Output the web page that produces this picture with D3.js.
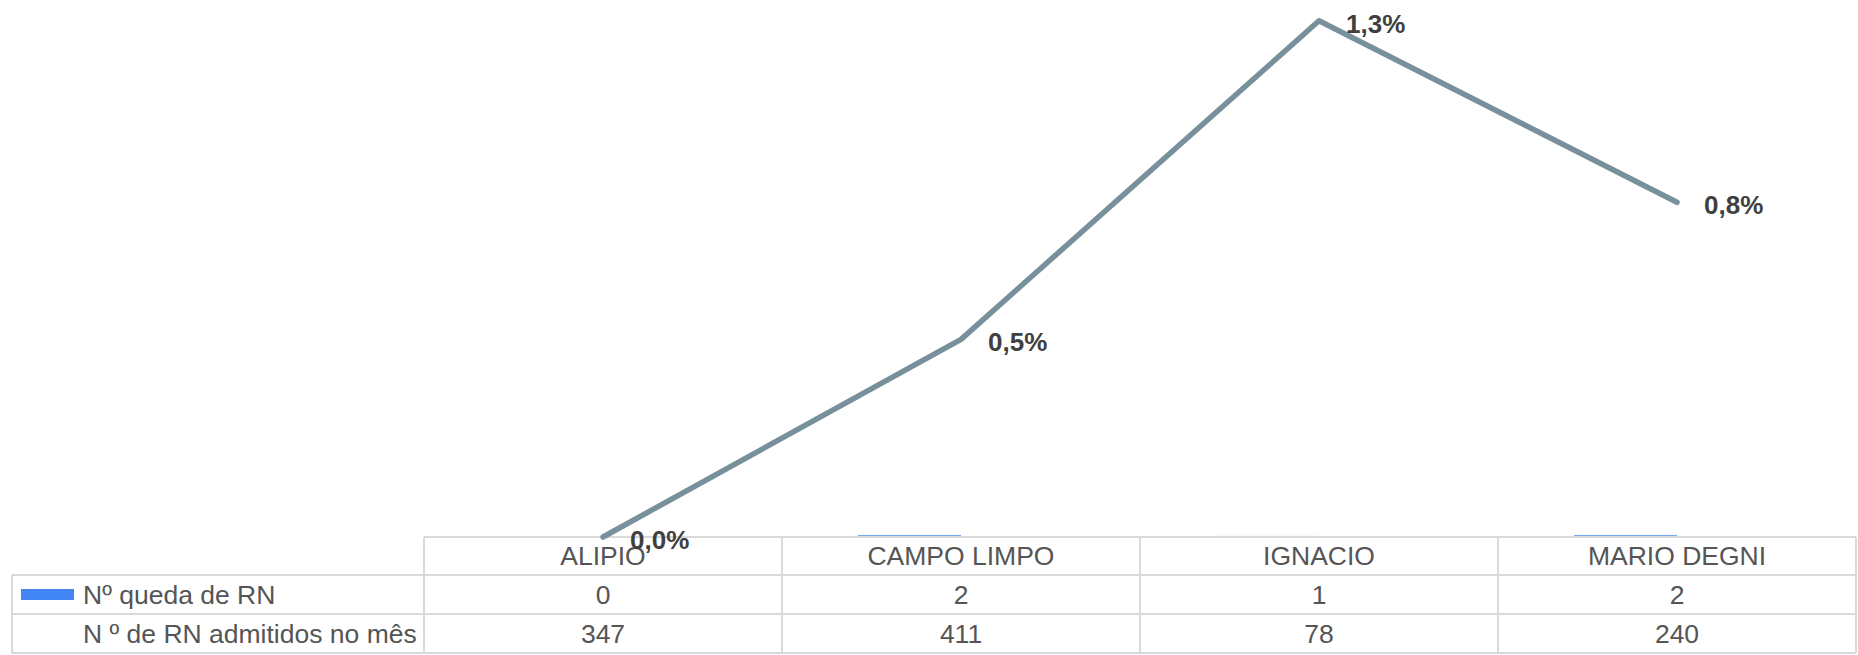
<!DOCTYPE html>
<html>
<head>
<meta charset="utf-8">
<script src="https://cdn.jsdelivr.net/npm/d3@7"></script>
<style>
	body { margin: 0; background: #fff; }
	svg { display: block; font-family: Arial, "Liberation Sans", sans-serif; }
</style>
</head>
<body>
<div id="chart"></div>
<script>
/*global d3*/

const units = ["ALIPIO", "CAMPO LIMPO", "IGNACIO", "MARIO DEGNI"];
const quedas = [0, 2, 1, 2];
const admitidos = [347, 411, 78, 240];
const taxa = [0.0, 0.49, 1.28, 0.83];   // % queda / admitidos
const rowLabels = ["Nº queda de RN", "N º de RN admitidos no mês"];

const BAR_COLOR = "#4285f4";
const LINE_COLOR = "#78909c";
const GRID = "#d9d9d9";
const TEXT = "#555555";

let width = 1858, height = 655;

let svg = d3.select("#chart")
	.append("svg")
	.attr("width", width)
	.attr("height", height);

// table geometry
let tableLeft = 12, tableRight = 1856, labelRight = 424;
let rowY = [537, 575, 614, 653];

// columns
let x = d3.scaleBand()
	.domain(units)
	.range([labelRight, tableRight])
	.padding(0);
let bw = x.bandwidth();

// series slots inside each column (second slot is the hidden admitidos bar)
let xs = d3.scaleBand()
	.domain(["queda", "admitidos"])
	.range([bw / 2 - 103, bw / 2 + 103]);

// y scales
let yBar = d3.scaleLinear().domain([0, 500]).range([rowY[0], 13]);
let yLine = d3.scaleLinear().domain([0, 1.3]).range([rowY[0], 12.7]);

// bars
svg.append("g")
	.selectAll("rect")
	.data(units.map((u, i) => ({u: u, v: quedas[i]})))
	.enter()
	.append("rect")
	.attr("x", d => x(d.u) + xs("queda"))
	.attr("width", xs.bandwidth())
	.attr("y", d => yBar(d.v))
	.attr("height", d => yBar(0) - yBar(d.v))
	.style("fill", BAR_COLOR)
	.style("opacity", 0.7);

// table grid
let grid = svg.append("g")
	.attr("stroke", GRID)
	.attr("stroke-width", 2)
	.attr("fill", "none");

grid.append("line")
	.attr("x1", labelRight).attr("x2", tableRight)
	.attr("y1", rowY[0]).attr("y2", rowY[0]);

rowY.slice(1).forEach(function (yy) {
	grid.append("line")
		.attr("x1", tableLeft).attr("x2", tableRight)
		.attr("y1", yy).attr("y2", yy);
});

grid.append("line")
	.attr("x1", tableLeft).attr("x2", tableLeft)
	.attr("y1", rowY[1]).attr("y2", rowY[3]);

units.forEach(function (u) {
	grid.append("line")
		.attr("x1", x(u)).attr("x2", x(u))
		.attr("y1", rowY[0]).attr("y2", rowY[3]);
});
grid.append("line")
	.attr("x1", tableRight).attr("x2", tableRight)
	.attr("y1", rowY[0]).attr("y2", rowY[3]);

// table text
let mid = function (r) { return (rowY[r] + rowY[r + 1]) / 2; };

let tableText = svg.append("g")
	.style("font-size", "26.5px")
	.style("fill", TEXT);

tableText.selectAll(".head")
	.data(units)
	.enter().append("text")
	.attr("x", d => x(d) + bw / 2)
	.attr("y", mid(0))
	.attr("dy", "0.35em")
	.attr("text-anchor", "middle")
	.text(d => d);

[quedas, admitidos].forEach(function (vals, r) {
	tableText.selectAll(".row" + r)
		.data(vals)
		.enter().append("text")
		.attr("x", (d, i) => x(units[i]) + bw / 2)
		.attr("y", mid(r + 1))
		.attr("dy", "0.35em")
		.attr("text-anchor", "middle")
		.text(d => d);
});

tableText.selectAll(".rowLabel")
	.data(rowLabels)
	.enter().append("text")
	.attr("x", 83)
	.attr("y", (d, i) => mid(i + 1))
	.attr("dy", "0.35em")
	.text(d => d);

// legend swatch for the bar series
svg.append("rect")
	.attr("x", 21)
	.attr("y", mid(1) - 5.5)
	.attr("width", 53)
	.attr("height", 11)
	.style("fill", BAR_COLOR);

// line
let line = d3.line()
	.x((d, i) => x(units[i]) + bw / 2)
	.y(d => yLine(d));

svg.append("path")
	.datum(taxa)
	.attr("d", line)
	.attr("fill", "none")
	.attr("stroke", LINE_COLOR)
	.attr("stroke-width", 5.5)
	.attr("stroke-linejoin", "round")
	.attr("stroke-linecap", "round");

// data labels
svg.append("g")
	.selectAll("text")
	.data(taxa)
	.enter().append("text")
	.attr("x", (d, i) => x(units[i]) + bw / 2 + 27)
	.attr("y", d => yLine(d) + 3)
	.attr("dy", "0.35em")
	.style("font-size", "26px")
	.style("font-weight", "bold")
	.style("fill", "#404040")
	.text(d => d3.format(".1f")(d).replace(".", ",") + "%");
</script>
</body>
</html>
